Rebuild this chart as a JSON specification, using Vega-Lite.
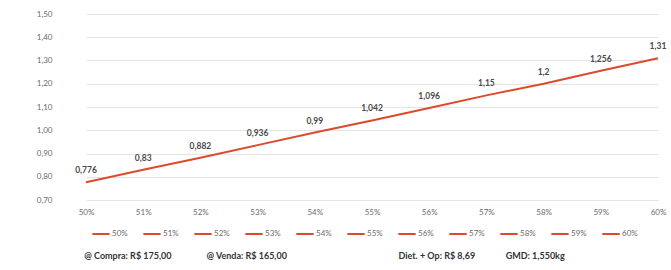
{
  "$schema": "https://vega.github.io/schema/vega-lite/v6.json",
  "autosize": "none",
  "width": 608,
  "height": 186,
  "padding": {"left": 60, "top": 14, "right": 3, "bottom": 70},
  "background": "white",
  "config": {
    "locale": {"number": {"decimal": ",", "thousands": ".", "grouping": [3], "currency": ["R$ ", ""]}},
    "font": "Lato",
    "view": {"stroke": null},
    "legend": {"layout": {"bottom": {"anchor": "middle"}}}
  },
  "title": {
    "text": "@ Compra: R$ 175,00\u00a0\u00a0\u00a0\u00a0\u00a0\u00a0\u00a0\u00a0\u00a0\u00a0\u00a0\u00a0\u00a0\u00a0\u00a0\u00a0@ Venda: R$ 165,00\u00a0\u00a0\u00a0\u00a0\u00a0\u00a0\u00a0\u00a0\u00a0\u00a0\u00a0\u00a0\u00a0\u00a0\u00a0\u00a0\u00a0\u00a0\u00a0\u00a0\u00a0\u00a0\u00a0\u00a0\u00a0\u00a0\u00a0\u00a0\u00a0\u00a0\u00a0\u00a0\u00a0\u00a0\u00a0\u00a0\u00a0\u00a0\u00a0\u00a0\u00a0\u00a0\u00a0\u00a0\u00a0\u00a0\u00a0\u00a0\u00a0\u00a0\u00a0Diet. + Op: R$ 8,69\u00a0\u00a0\u00a0\u00a0\u00a0\u00a0\u00a0\u00a0\u00a0\u00a0\u00a0\u00a0\u00a0\u00a0GMD: 1,550kg",
    "orient": "bottom",
    "anchor": "start",
    "offset": 14,
    "dx": 48,
    "fontSize": 9,
    "fontWeight": "bold",
    "color": "#333333",
    "font": "Lato"
  },
  "data": {
    "values": [
      {"pct": "50%", "v": 0.776},
      {"pct": "51%", "v": 0.83},
      {"pct": "52%", "v": 0.882},
      {"pct": "53%", "v": 0.936},
      {"pct": "54%", "v": 0.99},
      {"pct": "55%", "v": 1.042},
      {"pct": "56%", "v": 1.096},
      {"pct": "57%", "v": 1.15},
      {"pct": "58%", "v": 1.2},
      {"pct": "59%", "v": 1.256},
      {"pct": "60%", "v": 1.31}
    ]
  },
  "encoding": {
    "x": {
      "field": "pct", "type": "ordinal",
      "scale": {"type": "point", "range": [26, 598], "padding": 0},
      "axis": {"title": null, "labelAngle": 0, "domain": false, "ticks": false, "grid": false, "labelFontSize": 8, "labelColor": "#6b6b6b", "labelPadding": 8}
    },
    "y": {
      "field": "v", "type": "quantitative",
      "scale": {"domain": [0.7, 1.5], "nice": false, "zero": false},
      "axis": {"title": null, "format": ".2f", "values": [0.7, 0.8, 0.9, 1.0, 1.1, 1.2, 1.3, 1.4, 1.5], "domain": false, "ticks": false, "gridColor": "#e4e4e4", "gridWidth": 1, "labelFontSize": 8, "labelColor": "#6b6b6b", "labelPadding": 8}
    }
  },
  "layer": [
    {"mark": {"type": "line", "color": "#dd4a2a", "strokeWidth": 2}},
    {
      "mark": {"type": "line", "strokeWidth": 2},
      "encoding": {
        "color": {
          "field": "pct", "type": "nominal",
          "scale": {"range": ["#dd4a2a"]},
          "legend": {"title": null, "orient": "bottom", "direction": "horizontal", "columns": 11, "symbolType": "stroke", "symbolSize": 300, "symbolStrokeWidth": 2, "labelFontSize": 8, "labelColor": "#6b6b6b", "labelOffset": 1, "columnPadding": 11, "offset": 8}
        }
      }
    },
    {
      "mark": {"type": "text", "dy": -12, "fontSize": 8.5, "fontWeight": "bold", "color": "#4a4a4a"},
      "encoding": {"text": {"field": "v", "type": "quantitative", "format": "~r"}}
    }
  ]
}
